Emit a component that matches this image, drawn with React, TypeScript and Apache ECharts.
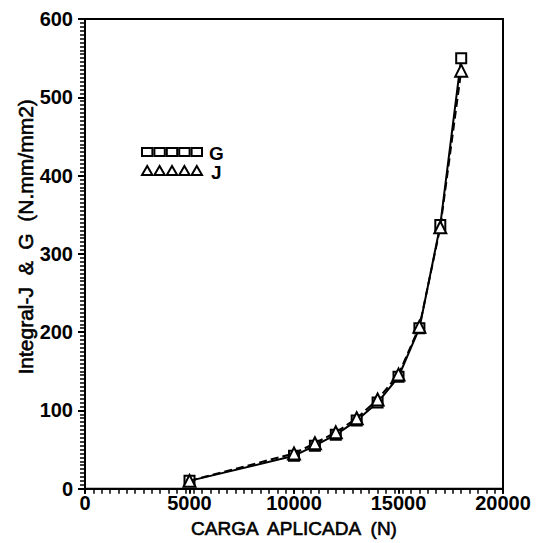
import React, { useEffect, useRef } from "react";
import * as echarts from "echarts";

const loads = [5000, 10000, 11000, 12000, 13000, 14000, 15000, 16000, 17000, 18000];
const gValues = [10, 42, 55, 69, 87, 110, 143, 205, 337, 550];
const jValues = [10, 45, 58, 72, 90, 114, 146, 207, 334, 534];
const xTitle = "CARGA  APLICADA  (N)";
const yTitle = "Integral-J  &  G  (N.mm/mm2)";
const legendNames = ["G", "J"];

const FONT = "Liberation Sans";

export default function App() {
  const ref = useRef<HTMLDivElement>(null);
  useEffect(() => {
    if (!ref.current) return;
    const chart = echarts.init(ref.current, undefined, { renderer: "svg" });
    const gData = loads.map((x, i) => [x, gValues[i]]);
    const jData = loads.map((x, i) => [x, jValues[i]]);

    const legendSquares = [0, 1, 2, 3, 4].map((i) => ({
      type: "rect",
      shape: { x: 142 + i * 12.4, y: 148, width: 10.4, height: 8 },
      style: { fill: "#fff", stroke: "#000", lineWidth: 2 },
    }));
    const legendTris = [0, 1, 2, 3, 4].map((i) => ({
      type: "polygon",
      shape: {
        points: [
          [142 + i * 12.4, 175],
          [152.4 + i * 12.4, 175],
          [147.2 + i * 12.4, 166],
        ],
      },
      style: { fill: "#fff", stroke: "#000", lineWidth: 2 },
    }));

    const titleStyle = {
      fontFamily: FONT,
      color: "#000",
      textBorderColor: "#000",
      textBorderWidth: 0.6,
    };
    const tickLabel = {
      fontFamily: FONT,
      fontSize: 20,
      fontWeight: "bold",
      color: "#000",
      formatter: (v: number) => String(v),
    };

    chart.setOption({
      animation: false,
      backgroundColor: "#fff",
      grid: {
        left: 85,
        right: 33,
        top: 19,
        bottom: 51,
        show: true,
        borderColor: "#000",
        borderWidth: 2,
        backgroundColor: "transparent",
      },
      xAxis: [
        {
          type: "value",
          min: 0,
          max: 20000,
          interval: 5000,
          name: xTitle,
          nameLocation: "middle",
          nameGap: 30,
          nameTextStyle: { ...titleStyle, fontSize: 19 },
          axisLine: { show: true, onZero: false, lineStyle: { color: "#000", width: 2 } },
          axisTick: { show: true, inside: false, length: 5, lineStyle: { color: "#000", width: 2 } },
          axisLabel: { ...tickLabel, margin: 4 },
          splitLine: { show: false },
        },
        {
          type: "value",
          min: 0,
          max: 20000,
          interval: 400,
          position: "bottom",
          axisLine: { show: false },
          axisTick: { show: true, inside: false, length: 5, lineStyle: { color: "#000", width: 1.5 } },
          axisLabel: { show: false },
          splitLine: { show: false },
        },
      ],
      yAxis: [
        {
          type: "value",
          min: 0,
          max: 600,
          interval: 100,
          name: yTitle,
          nameLocation: "middle",
          nameGap: 49,
          nameMoveOverlap: false,
          nameTextStyle: { ...titleStyle, fontSize: 21, padding: [0, 0, 0, 34] },
          axisLine: { show: true, onZero: false, lineStyle: { color: "#000", width: 2 } },
          axisTick: { show: true, inside: false, length: 7, lineStyle: { color: "#000", width: 2 } },
          axisLabel: { ...tickLabel, margin: 12 },
          splitLine: { show: false },
        },
        {
          type: "value",
          min: 0,
          max: 600,
          interval: 5,
          position: "left",
          axisLine: { show: false },
          axisTick: { show: true, inside: false, length: 5, lineStyle: { color: "#000", width: 1.5 } },
          axisLabel: { show: false },
          splitLine: { show: false },
        },
      ],
      graphic: [
        ...legendSquares,
        ...legendTris,
        {
          type: "text",
          left: 209,
          top: 144,
          style: { text: legendNames[0], fontFamily: FONT, fontSize: 19, fontWeight: "bold", fill: "#000" },
        },
        {
          type: "text",
          left: 211,
          top: 163,
          style: { text: legendNames[1], fontFamily: FONT, fontSize: 19, fontWeight: "bold", fill: "#000" },
        },
      ],
      series: [
        {
          name: legendNames[0],
          type: "line",
          data: gData,
          xAxisIndex: 0,
          yAxisIndex: 0,
          symbol: "rect",
          symbolSize: 10,
          lineStyle: { color: "#000", width: 2 },
          itemStyle: { color: "#fff", borderColor: "#000", borderWidth: 2 },
          z: 3,
        },
        {
          name: legendNames[1],
          type: "line",
          data: jData,
          xAxisIndex: 0,
          yAxisIndex: 0,
          symbol: "triangle",
          symbolSize: 12,
          lineStyle: { color: "#000", width: 2, type: [8, 4] },
          itemStyle: { color: "#fff", borderColor: "#000", borderWidth: 2 },
          z: 4,
        },
      ],
    });
    return () => chart.dispose();
  }, []);
  return (
    <div
      ref={ref}
      style={{ position: "absolute", left: 0, top: 0, width: 536, height: 543 }}
    />
  );
}
